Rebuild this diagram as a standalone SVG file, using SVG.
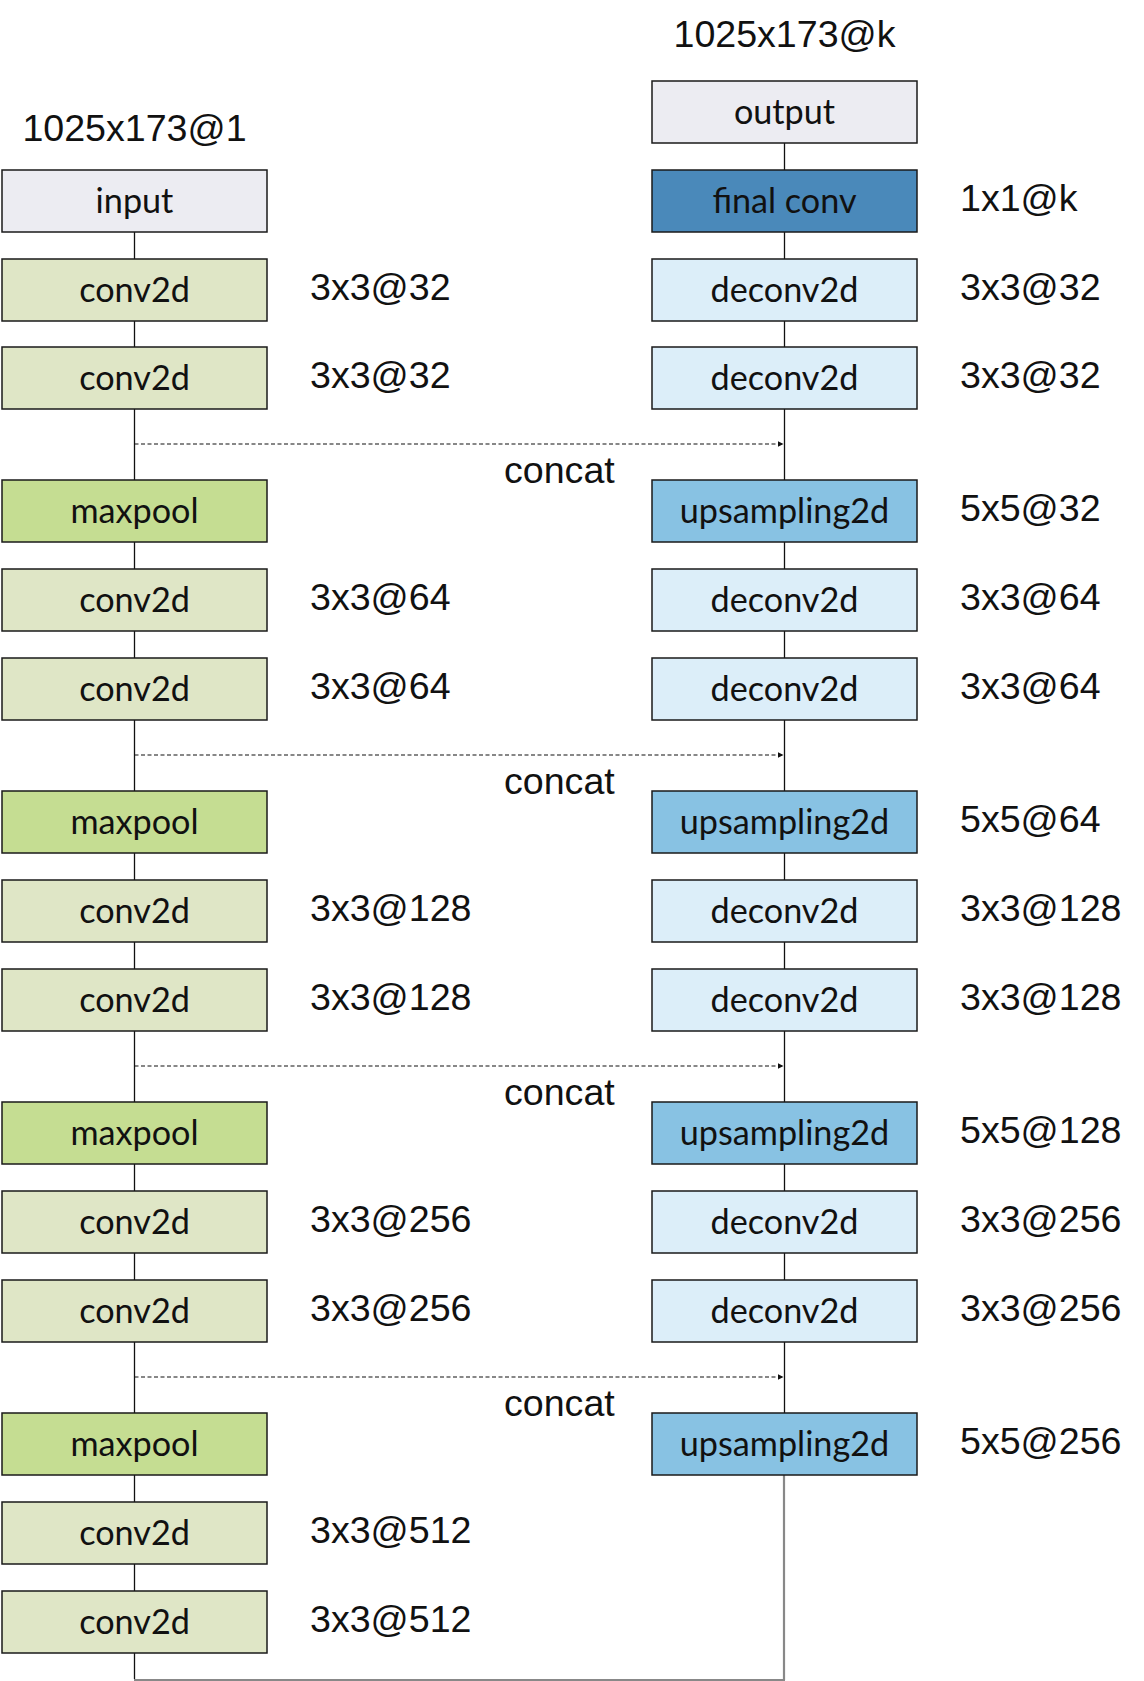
<svg xmlns="http://www.w3.org/2000/svg" width="1144" height="1681" viewBox="0 0 1144 1681">
<defs>
<marker id="ah" viewBox="0 0 6 6" refX="6" refY="3" markerWidth="6" markerHeight="6" markerUnits="userSpaceOnUse" orient="auto">
<path d="M0,0 L6,3 L0,6 z" fill="#111"/>
</marker>
<style>
.box{stroke:#1a1a1a;stroke-width:1.5}
.io{fill:#ECECF2}
.conv{fill:#DFE6C6}
.pool{fill:#C5DD92}
.dec{fill:#DCEEF9}
.up{fill:#88C2E3}
.fin{fill:#4A89BA}
.bl{font-family:Lato,"Open Sans",sans-serif;font-size:34.2px;fill:#111;text-anchor:middle}
.nl{font-family:"Liberation Sans",Arial,sans-serif;font-size:37.6px;fill:#111}
.ln{stroke:#111;stroke-width:1.3;fill:none}
.dash{stroke:#111;stroke-width:1.2;stroke-dasharray:4 2.5;fill:none}
.gray{stroke:#888;stroke-width:2.2;fill:none}
</style>
</defs>
<rect width="1144" height="1681" fill="#fff"/>

<g id="connectors">
<line class="ln" x1="134.5" y1="232" x2="134.5" y2="1679"/>
<line class="ln" x1="784.5" y1="143" x2="784.5" y2="1413"/>
<line class="gray" x1="784" y1="1475" x2="784" y2="1680"/>
<line class="gray" x1="134" y1="1680" x2="785" y2="1680"/>
<line class="dash" x1="134.5" y1="444" x2="783.5" y2="444" marker-end="url(#ah)"/>
<line class="dash" x1="134.5" y1="755" x2="783.5" y2="755" marker-end="url(#ah)"/>
<line class="dash" x1="134.5" y1="1066" x2="783.5" y2="1066" marker-end="url(#ah)"/>
<line class="dash" x1="134.5" y1="1377" x2="783.5" y2="1377" marker-end="url(#ah)"/>
</g>

<g id="labels">
<text class="nl" x="134.5" y="141" text-anchor="middle">1025x173@1</text>
<text class="nl" x="784.5" y="47" text-anchor="middle">1025x173@k</text>
<text class="nl" x="504" y="483">concat</text>
<text class="nl" x="504" y="794">concat</text>
<text class="nl" x="504" y="1105">concat</text>
<text class="nl" x="504" y="1416">concat</text>
</g>

<!-- left column -->
<g id="input"><rect class="box io" x="2" y="170" width="265" height="62"/><text class="bl" x="134.5" y="213">input</text></g>
<g id="conv1a"><rect class="box conv" x="2" y="259" width="265" height="62"/><text class="bl" x="134.5" y="302">conv2d</text><text class="nl" x="310" y="300">3x3@32</text></g>
<g id="conv1b"><rect class="box conv" x="2" y="347" width="265" height="62"/><text class="bl" x="134.5" y="390">conv2d</text><text class="nl" x="310" y="388">3x3@32</text></g>

<g id="pool1"><rect class="box pool" x="2" y="480" width="265" height="62"/><text class="bl" x="134.5" y="523">maxpool</text></g>
<g id="conv2a"><rect class="box conv" x="2" y="569" width="265" height="62"/><text class="bl" x="134.5" y="612">conv2d</text><text class="nl" x="310" y="610">3x3@64</text></g>
<g id="conv2b"><rect class="box conv" x="2" y="658" width="265" height="62"/><text class="bl" x="134.5" y="701">conv2d</text><text class="nl" x="310" y="699">3x3@64</text></g>

<g id="pool2"><rect class="box pool" x="2" y="791" width="265" height="62"/><text class="bl" x="134.5" y="834">maxpool</text></g>
<g id="conv3a"><rect class="box conv" x="2" y="880" width="265" height="62"/><text class="bl" x="134.5" y="923">conv2d</text><text class="nl" x="310" y="921">3x3@128</text></g>
<g id="conv3b"><rect class="box conv" x="2" y="969" width="265" height="62"/><text class="bl" x="134.5" y="1012">conv2d</text><text class="nl" x="310" y="1010">3x3@128</text></g>

<g id="pool3"><rect class="box pool" x="2" y="1102" width="265" height="62"/><text class="bl" x="134.5" y="1145">maxpool</text></g>
<g id="conv4a"><rect class="box conv" x="2" y="1191" width="265" height="62"/><text class="bl" x="134.5" y="1234">conv2d</text><text class="nl" x="310" y="1232">3x3@256</text></g>
<g id="conv4b"><rect class="box conv" x="2" y="1280" width="265" height="62"/><text class="bl" x="134.5" y="1323">conv2d</text><text class="nl" x="310" y="1321">3x3@256</text></g>

<g id="pool4"><rect class="box pool" x="2" y="1413" width="265" height="62"/><text class="bl" x="134.5" y="1456">maxpool</text></g>
<g id="conv5a"><rect class="box conv" x="2" y="1502" width="265" height="62"/><text class="bl" x="134.5" y="1545">conv2d</text><text class="nl" x="310" y="1543">3x3@512</text></g>
<g id="conv5b"><rect class="box conv" x="2" y="1591" width="265" height="62"/><text class="bl" x="134.5" y="1634">conv2d</text><text class="nl" x="310" y="1632">3x3@512</text></g>

<!-- right column -->
<g id="output"><rect class="box io" x="652" y="81" width="265" height="62"/><text class="bl" x="784.5" y="124">output</text></g>
<g id="finalconv"><rect class="box fin" x="652" y="170" width="265" height="62"/><text class="bl" x="784.5" y="213">final conv</text><text class="nl" x="960" y="211">1x1@k</text></g>
<g id="deconv1a"><rect class="box dec" x="652" y="259" width="265" height="62"/><text class="bl" x="784.5" y="302">deconv2d</text><text class="nl" x="960" y="300">3x3@32</text></g>
<g id="deconv1b"><rect class="box dec" x="652" y="347" width="265" height="62"/><text class="bl" x="784.5" y="390">deconv2d</text><text class="nl" x="960" y="388">3x3@32</text></g>

<g id="up1"><rect class="box up" x="652" y="480" width="265" height="62"/><text class="bl" x="784.5" y="523">upsampling2d</text><text class="nl" x="960" y="521">5x5@32</text></g>
<g id="deconv2a"><rect class="box dec" x="652" y="569" width="265" height="62"/><text class="bl" x="784.5" y="612">deconv2d</text><text class="nl" x="960" y="610">3x3@64</text></g>
<g id="deconv2b"><rect class="box dec" x="652" y="658" width="265" height="62"/><text class="bl" x="784.5" y="701">deconv2d</text><text class="nl" x="960" y="699">3x3@64</text></g>

<g id="up2"><rect class="box up" x="652" y="791" width="265" height="62"/><text class="bl" x="784.5" y="834">upsampling2d</text><text class="nl" x="960" y="832">5x5@64</text></g>
<g id="deconv3a"><rect class="box dec" x="652" y="880" width="265" height="62"/><text class="bl" x="784.5" y="923">deconv2d</text><text class="nl" x="960" y="921">3x3@128</text></g>
<g id="deconv3b"><rect class="box dec" x="652" y="969" width="265" height="62"/><text class="bl" x="784.5" y="1012">deconv2d</text><text class="nl" x="960" y="1010">3x3@128</text></g>

<g id="up3"><rect class="box up" x="652" y="1102" width="265" height="62"/><text class="bl" x="784.5" y="1145">upsampling2d</text><text class="nl" x="960" y="1143">5x5@128</text></g>
<g id="deconv4a"><rect class="box dec" x="652" y="1191" width="265" height="62"/><text class="bl" x="784.5" y="1234">deconv2d</text><text class="nl" x="960" y="1232">3x3@256</text></g>
<g id="deconv4b"><rect class="box dec" x="652" y="1280" width="265" height="62"/><text class="bl" x="784.5" y="1323">deconv2d</text><text class="nl" x="960" y="1321">3x3@256</text></g>

<g id="up4"><rect class="box up" x="652" y="1413" width="265" height="62"/><text class="bl" x="784.5" y="1456">upsampling2d</text><text class="nl" x="960" y="1454">5x5@256</text></g>
</svg>
